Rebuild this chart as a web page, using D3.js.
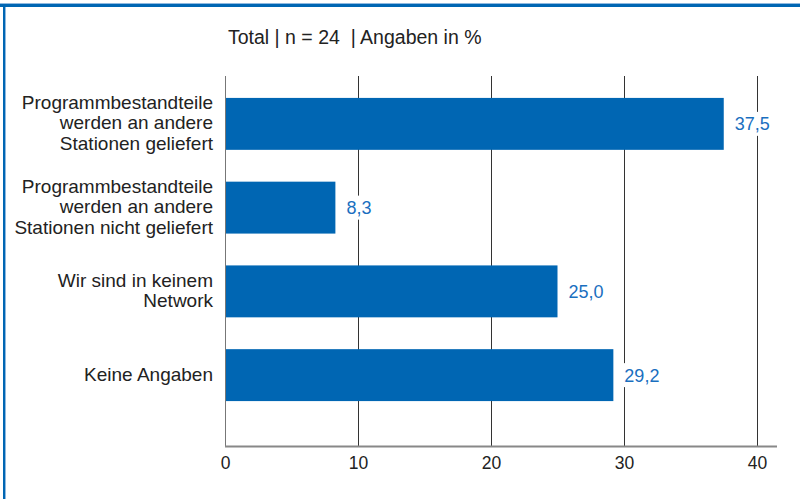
<!DOCTYPE html>
<html>
<head>
<meta charset="utf-8">
<script src="https://cdn.jsdelivr.net/npm/d3@7"></script>
<style>
  html, body { margin: 0; padding: 0; background: #fff; }
  svg { display: block; font-family: "Liberation Sans", Arial, sans-serif; }
</style>
</head>
<body>
<svg id="chart" width="800" height="499"></svg>
<script>
// Antworten (Zeilen der Kategorie-Beschriftung) und Anteile in %
const categories = [
  ["Programmbestandteile", "werden an andere", "Stationen geliefert"],
  ["Programmbestandteile", "werden an andere", "Stationen nicht geliefert"],
  ["Wir sind in keinem", "Network"],
  ["Keine Angaben"]
];
const values = [37.5, 8.3, 25.0, 29.2];
const tickValues = [0, 10, 20, 30, 40];
const title = "Total | n = 24\u00a0 | Angaben in %";

const blue = "#0066b3";
const svg = d3.select("#chart");

// Rahmen oben und links
svg.append("rect").attr("x", 0).attr("y", 3).attr("width", 800).attr("height", 1).attr("fill", "#8fb9e0");
svg.append("rect").attr("x", 0).attr("y", 4).attr("width", 800).attr("height", 3).attr("fill", blue);
svg.append("rect").attr("x", 3).attr("y", 4).attr("width", 2).attr("height", 495).attr("fill", blue);
svg.append("rect").attr("x", 5).attr("y", 7).attr("width", 1).attr("height", 492).attr("fill", "#8fb9e0");

const x = d3.scaleLinear().domain([0, 40]).range([225, 757]);
const y = d3.scaleBand()
  .domain(d3.range(categories.length))
  .range([82, 417])
  .paddingInner(0.38)
  .paddingOuter(0.19);

const gridTop = 76, axisY = 446;

// Titel
svg.append("text")
  .attr("x", 228).attr("y", 44)
  .attr("font-size", 19.5).attr("fill", "#222")
  .text(title);

// Gitterlinien
svg.append("g").selectAll("line").data(tickValues).join("line")
  .attr("x1", d => x(d) + 0.5).attr("x2", d => x(d) + 0.5)
  .attr("y1", gridTop).attr("y2", axisY)
  .attr("stroke", d => d === 0 ? "#777" : "#333").attr("stroke-width", 1);

// Balken
svg.append("g").selectAll("rect").data(values).join("rect")
  .attr("x", x(0) + 1)
  .attr("y", (d, i) => y(i))
  .attr("width", d => x(d) - x(0) - 1)
  .attr("height", y.bandwidth())
  .attr("fill", blue);

// Werte-Beschriftungen mit weißem Hintergrund
const fmt = d => d3.format(".1f")(d).replace(".", ",");
const vl = svg.append("g").selectAll("g").data(values).join("g")
  .attr("transform", (d, i) => `translate(${x(d)},${y(i) + y.bandwidth() / 2})`);
vl.append("rect")
  .attr("x", 4).attr("y", -12).attr("width", d => fmt(d).length * 10 + 6).attr("height", 24)
  .attr("fill", "#fff");
vl.append("text")
  .attr("x", 11).attr("dy", "0.36em")
  .attr("font-size", 18).attr("fill", "#1a6fbf")
  .text(fmt);

// Kategorie-Beschriftungen, mehrzeilig und vertikal zentriert
const lineH = 20.5;
const baseShift = 5.5;
const cl = svg.append("g").selectAll("text").data(categories).join("text")
  .attr("text-anchor", "end")
  .attr("font-size", 19).attr("fill", "#222")
  .attr("x", 213)
  .attr("y", (d, i) => y(i) + y.bandwidth() / 2 - (d.length - 1) * lineH / 2);
cl.selectAll("tspan").data(d => d).join("tspan")
  .attr("x", 213)
  .attr("dy", (d, j) => j === 0 ? baseShift : lineH)
  .text(d => d);

// x-Achse
const axis = d3.axisBottom(x).tickValues(tickValues).tickSize(0).tickPadding(11)
  .tickFormat(d3.format("d"));
const ag = svg.append("g").attr("transform", `translate(0,${axisY})`).call(axis);
ag.select(".domain").remove();
ag.selectAll("text").attr("font-size", 17.5).attr("fill", "#222")
  .attr("font-family", "Liberation Sans, Arial, sans-serif");
svg.append("line")
  .attr("x1", x(0)).attr("x2", 777)
  .attr("y1", axisY + 0.5).attr("y2", axisY + 0.5)
  .attr("stroke", "#888").attr("stroke-width", 2);
</script>
</body>
</html>
